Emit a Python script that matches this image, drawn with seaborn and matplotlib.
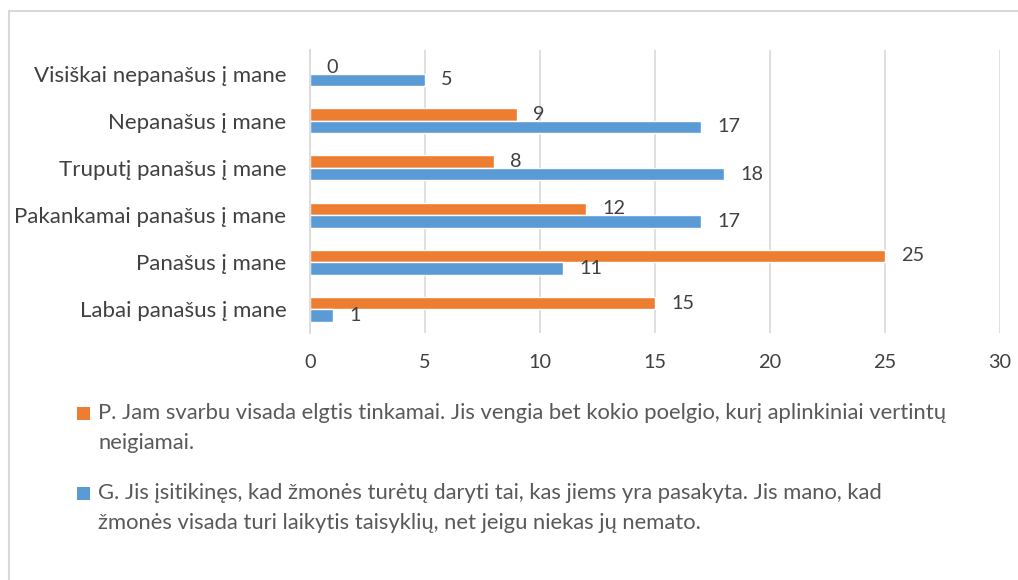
import pandas as pd
import matplotlib.pyplot as plt
from matplotlib.patches import Rectangle
import seaborn as sns

categories = ["Visiškai nepanašus į mane", "Nepanašus į mane", "Truputį panašus į mane",
              "Pakankamai panašus į mane", "Panašus į mane", "Labai panašus į mane"]
p_values = [0, 9, 8, 12, 25, 15]
g_values = [5, 17, 18, 17, 11, 1]
series = ["P", "G"]
legend_lines = [
    ["P. Jam svarbu visada elgtis tinkamai. Jis vengia bet kokio poelgio, kurį aplinkiniai vertintų",
     "neigiamai."],
    ["G. Jis įsitikinęs, kad žmonės turėtų daryti tai, kas jiems yra pasakyta. Jis mano, kad",
     "žmonės visada turi laikytis taisyklių, net jeigu niekas jų nemato."],
]
colors = {"P": "#ED7D31", "G": "#5B9BD5"}

df = pd.DataFrame({
    "category": categories * 2,
    "series": ["P"] * len(categories) + ["G"] * len(categories),
    "value": p_values + g_values,
})

sns.set_theme(style="white")
plt.rcParams["font.family"] = ["Lato", "DejaVu Sans"]
TXT = "#404040"

fig = plt.figure(figsize=(10.18, 5.8), dpi=100)
ax = fig.add_axes([0.3045, 0.4259, 0.6778, 0.4879])

sns.barplot(data=df, x="value", y="category", hue="series", hue_order=series,
            order=categories, palette=colors, orient="h", width=0.53,
            saturation=1, legend=False, ax=ax)

for cont in ax.containers:
    ax.bar_label(cont, padding=11.5, fontsize=14.3, color=TXT)

ax.set_xlim(0, 30)
ax.set_xticks(range(0, 31, 5))
ax.xaxis.grid(True, color="#D9D9D9", linewidth=1.2)
ax.set_axisbelow(True)
for s in ["top", "right", "bottom"]:
    ax.spines[s].set_visible(False)
ax.spines["left"].set_color("#D9D9D9")
ax.set_xlabel("")
ax.set_ylabel("")
ax.tick_params(axis="x", length=0, labelsize=14.3, labelcolor=TXT, pad=15)
ax.tick_params(axis="y", length=0, labelsize=16, labelcolor=TXT, pad=17)

# chart frame
fig.add_artist(Rectangle((9 / 1018, -0.1), 1.1, 1 - 11 / 580 + 0.1, transform=fig.transFigure,
                         fill=False, edgecolor="#D9D9D9", linewidth=1.5))

# legend below the plot
leg_y = [413, 493]
for s, lines, y in zip(series, legend_lines, leg_y):
    fig.add_artist(Rectangle((77 / 1018, 1 - (y + 7) / 580), 13 / 1018, 13 / 580,
                             transform=fig.transFigure, color=colors[s], linewidth=0))
    for i, line in enumerate(lines):
        fig.text(98 / 1018, 1 - (y + 30 * i) / 580, line, fontsize=15.8, color="#595959",
                 va="center", ha="left")

fig.savefig("out.png", dpi=100)
